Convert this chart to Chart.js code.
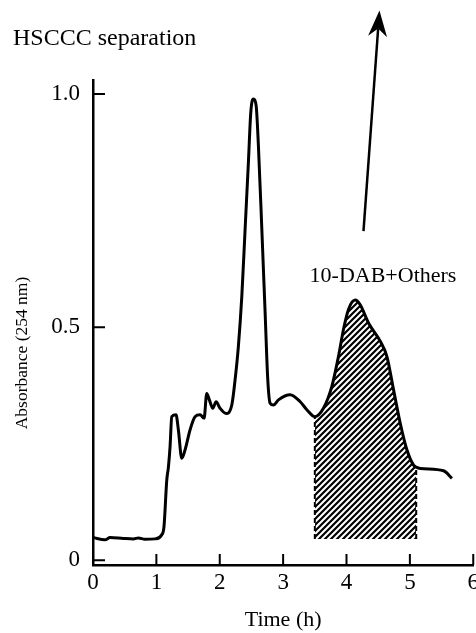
<!DOCTYPE html>
<html>
<head>
<meta charset="utf-8">
<script src="https://cdn.jsdelivr.net/npm/chart.js@4.4.1/dist/chart.umd.min.js"></script>
<style>
  html, body { margin: 0; padding: 0; background: #fff; overflow: hidden; }
  #wrap { width: 483px; height: 633px; }
</style>
</head>
<body>
<div id="wrap"><canvas id="chart" width="483" height="633"></canvas></div>
<script>
// chromatogram trace
const timeH = [0, 0.19, 0.27, 0.48, 0.64, 0.716, 0.82, 0.98, 1.085, 1.12, 1.164, 1.19, 1.216, 1.243,
  1.31, 1.347, 1.40, 1.453, 1.532, 1.61, 1.69, 1.753, 1.795, 1.836, 1.89, 1.942, 2.005, 2.1, 2.19,
  2.242, 2.294, 2.348, 2.4, 2.452, 2.49, 2.531, 2.574, 2.61, 2.664, 2.716, 2.758, 2.795, 2.847,
  2.926, 3.11, 3.27, 3.374, 3.5, 3.636, 3.769, 3.873, 3.952, 4.031, 4.137, 4.216, 4.347, 4.532,
  4.638, 4.742, 4.848, 4.953, 5.058, 5.1, 5.163, 5.531, 5.664];
const absorbance = [0.049, 0.044, 0.049, 0.047, 0.046, 0.048, 0.045, 0.046, 0.055, 0.072, 0.172, 0.2,
  0.244, 0.308, 0.312, 0.28, 0.219, 0.237, 0.28, 0.308, 0.312, 0.305, 0.358, 0.344, 0.326, 0.34,
  0.326, 0.315, 0.333, 0.387, 0.459, 0.566, 0.71, 0.853, 0.961, 0.989, 0.975, 0.889, 0.71, 0.531,
  0.387, 0.337, 0.333, 0.344, 0.355, 0.34, 0.323, 0.308, 0.326, 0.373, 0.437, 0.495, 0.538, 0.558,
  0.548, 0.509, 0.47, 0.437, 0.366, 0.294, 0.237, 0.204, 0.2, 0.197, 0.192, 0.176];

// collected fraction (hatched)
const fractionStart = 3.5;
const fractionEnd = 5.1;
const fractionBase = 0.046;

const xTicks = [0, 1, 2, 3, 4, 5, 6];
const yTicks = [0, 0.5, 1.0];
const yTickLabels = ['0', '0.5', '1.0'];

// arrow pointing off-scale (start -> tip, in data units)
const arrowFrom = [4.268, 0.706];
const arrowTo = [4.52, 1.179];

const serif = "'Liberation Serif', 'DejaVu Serif', serif";

const trace = timeH.map((t, i) => ({ x: t, y: absorbance[i] }));
const fraction = trace.filter(p => p.x >= fractionStart && p.x <= fractionEnd);
const yAt = t => absorbance[timeH.indexOf(t)];

// diagonal hatch pattern
function makeHatch() {
  const c = document.createElement('canvas');
  c.width = 6; c.height = 6;
  const g = c.getContext('2d');
  g.strokeStyle = '#000';
  g.lineWidth = 2.2;
  g.beginPath();
  g.moveTo(-1, 7); g.lineTo(7, -1);
  g.moveTo(-4, 4); g.lineTo(4, -4);
  g.moveTo(2, 10); g.lineTo(10, 2);
  g.stroke();
  return g.createPattern(c, 'repeat');
}

// inward tick marks + text labels + arrow
const decor = {
  id: 'decor',
  afterDraw(chart) {
    const ctx = chart.ctx;
    const xs = chart.scales.x, ys = chart.scales.y;
    const a = chart.chartArea;
    ctx.save();
    ctx.strokeStyle = '#000';
    ctx.lineWidth = 2;
    ctx.beginPath();
    xTicks.forEach(v => {
      const px = xs.getPixelForValue(v);
      ctx.moveTo(px, a.bottom); ctx.lineTo(px, a.bottom - 11);
    });
    yTicks.forEach(v => {
      const py = ys.getPixelForValue(v);
      ctx.moveTo(a.left, py); ctx.lineTo(a.left + 12, py);
    });
    ctx.stroke();

    ctx.fillStyle = '#000';
    ctx.font = '24px ' + serif;
    ctx.textAlign = 'left';
    ctx.textBaseline = 'alphabetic';
    ctx.fillText('HSCCC separation', 13, 45);

    ctx.font = '22px ' + serif;
    ctx.textAlign = 'center';
    ctx.textBaseline = 'middle';
    ctx.fillText('10-DAB+Others', 383, 276);

    ctx.save();
    ctx.translate(22, 353);
    ctx.rotate(-Math.PI / 2);
    ctx.font = '17.5px ' + serif;
    ctx.fillText('Absorbance (254 nm)', 0, 0);
    ctx.restore();

    // arrow
    const x0 = xs.getPixelForValue(arrowFrom[0]), y0 = ys.getPixelForValue(arrowFrom[1]);
    const x1 = xs.getPixelForValue(arrowTo[0]), y1 = ys.getPixelForValue(arrowTo[1]);
    const ang = Math.atan2(y1 - y0, x1 - x0);
    const len = 26, half = 9.5, notch = 18;
    ctx.lineWidth = 2.5;
    ctx.beginPath();
    ctx.moveTo(x0, y0);
    ctx.lineTo(x1 - Math.cos(ang) * notch, y1 - Math.sin(ang) * notch);
    ctx.stroke();
    ctx.translate(x1, y1);
    ctx.rotate(ang);
    ctx.beginPath();
    ctx.moveTo(0, 0);
    ctx.lineTo(-len, -half);
    ctx.lineTo(-notch, 0);
    ctx.lineTo(-len, half);
    ctx.closePath();
    ctx.fill();
    ctx.restore();
  }
};

new Chart(document.getElementById('chart'), {
  type: 'line',
  data: {
    datasets: [
      {
        data: trace,
        borderColor: '#000',
        borderWidth: 3,
        pointRadius: 0,
        tension: 0.4,
        cubicInterpolationMode: 'monotone',
        fill: false,
        order: 0
      },
      {
        data: [{ x: fractionStart, y: fractionBase }, { x: fractionStart, y: yAt(fractionStart) }],
        borderColor: '#000',
        borderWidth: 2,
        borderDash: [5, 3],
        pointRadius: 0,
        order: 1
      },
      {
        data: [{ x: fractionEnd, y: fractionBase }, { x: fractionEnd, y: yAt(fractionEnd) }],
        borderColor: '#000',
        borderWidth: 2,
        borderDash: [5, 3],
        pointRadius: 0,
        order: 1
      },
      {
        data: fraction,
        borderWidth: 0,
        borderColor: 'rgba(0,0,0,0)',
        backgroundColor: makeHatch(),
        pointRadius: 0,
        tension: 0.4,
        cubicInterpolationMode: 'monotone',
        fill: { value: fractionBase },
        order: 2
      }
    ]
  },
  options: {
    responsive: false,
    animation: false,
    layout: { padding: { top: 80, left: 0, right: 0, bottom: 0 } },
    plugins: { legend: { display: false }, tooltip: { enabled: false } },
    scales: {
      x: {
        type: 'linear',
        min: 0,
        max: 6,
        afterBuildTicks: s => { s.ticks = xTicks.map(v => ({ value: v })); },
        afterFit: s => { s.height = 68; },
        grid: { display: false, drawTicks: false },
        border: { display: true, color: '#000', width: 2.5 },
        ticks: { color: '#000', font: { family: serif, size: 23 }, padding: 4, maxRotation: 0 },
        title: { display: true, text: 'Time (h)', color: '#000', font: { family: serif, size: 22 }, padding: { top: 0, bottom: 0 } }
      },
      y: {
        min: -0.01,
        max: 1.03,
        afterBuildTicks: s => { s.ticks = yTicks.map(v => ({ value: v })); },
        afterFit: s => { s.width = 93; },
        grid: { display: false, drawTicks: false },
        border: { display: true, color: '#000', width: 2.5 },
        ticks: {
          color: '#000',
          font: { family: serif, size: 23 },
          padding: 13,
          callback: v => yTickLabels[yTicks.indexOf(v)]
        }
      }
    }
  },
  plugins: [decor]
});
</script>
</body>
</html>
